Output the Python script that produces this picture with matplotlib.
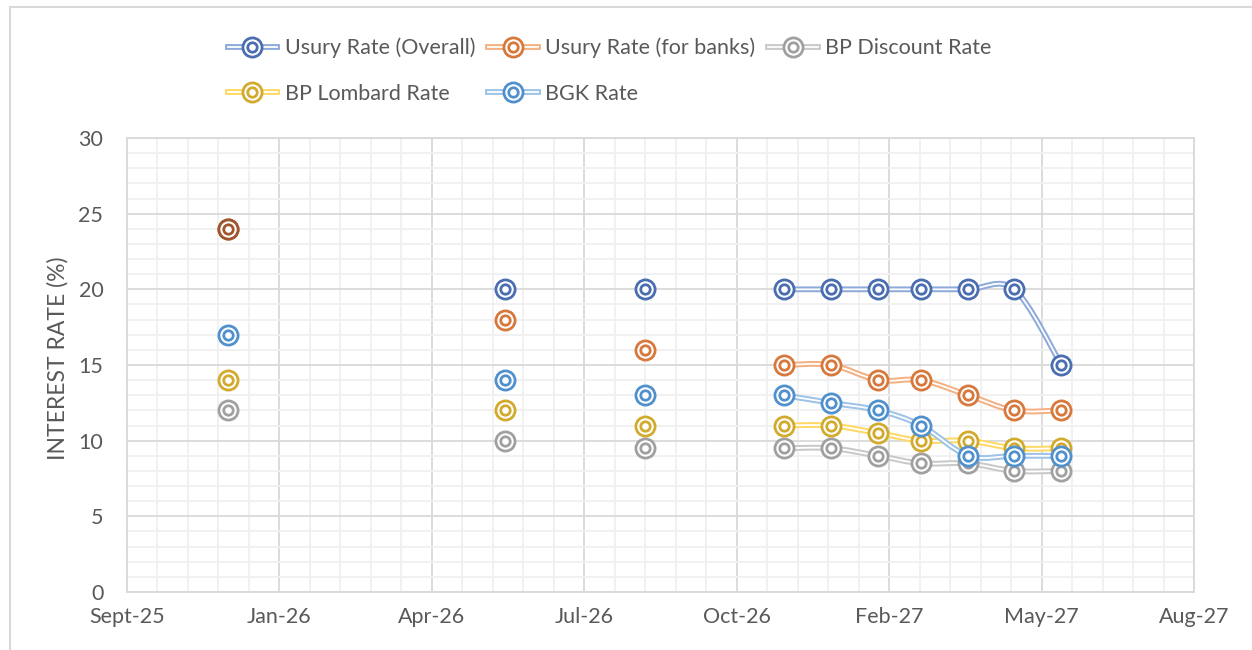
import numpy as np
import pandas as pd
import matplotlib
matplotlib.use('Agg')
import matplotlib.pyplot as plt
import matplotlib.dates as mdates
from matplotlib.path import Path
from matplotlib.patches import PathPatch, Rectangle
from matplotlib.lines import Line2D
from matplotlib.ticker import MultipleLocator, FixedLocator

plt.rcParams['font.family'] = ['Lato', 'DejaVu Sans']

# Dados (leitura aproximada do gráfico)
datas = ['2025-12-01', '2026-06-01', '2026-09-01', '2026-12-01', '2027-01-01',
         '2027-02-01', '2027-03-01', '2027-04-01', '2027-05-01', '2027-06-01']
usura_geral = [24, 20, 20, 20, 20, 20, 20, 20, 20, 15]
usura_bancos = [24, 18, 16, 15, 15, 14, 14, 13, 12, 12]
bp_desconto = [12, 10, 9.5, 9.5, 9.5, 9, 8.5, 8.5, 8, 8]
bp_lombard = [14, 12, 11, 11, 11, 10.5, 10, 10, 9.5, 9.5]
bgk = [17, 14, 13, 13, 12.5, 12, 11, 9, 9, 9]

nomes = ['Usury Rate (Overall)', 'Usury Rate (for banks)', 'BP Discount Rate',
         'BP Lombard Rate', 'BGK Rate']

inicio_eixo = '2025-09-26'
rotulos_x = ['Sept-25', 'Jan-26', 'Apr-26', 'Jul-26', 'Oct-26', 'Feb-27', 'May-27', 'Aug-27']

cores_marcador = ['#4A6EB0', '#D7783C', '#A0A0A0', '#D2AA2D', '#5091CD']
cores_linha = ['#8EAADB', '#F4B183', '#C9C9C9', '#FFD966', '#9DC3E6']
cor_sobreposta = '#A0552E'
cor_texto = '#595959'

x = mdates.date2num(pd.to_datetime(datas))
x0 = mdates.date2num(pd.Timestamp(inicio_eixo))
series = [usura_geral, usura_bancos, bp_desconto, bp_lombard, bgk]

MS_EXT, MS_INT, MEW = 13.8, 6.8, 2.0


def curva_suave(xs, ys):
    # Catmull-Rom -> Bezier (suavização tipo Excel)
    verts = [(xs[0], ys[0])]
    codes = [Path.MOVETO]
    n = len(xs)
    for i in range(n - 1):
        p0 = np.array([xs[max(i - 1, 0)], ys[max(i - 1, 0)]])
        p1 = np.array([xs[i], ys[i]])
        p2 = np.array([xs[i + 1], ys[i + 1]])
        p3 = np.array([xs[min(i + 2, n - 1)], ys[min(i + 2, n - 1)]])
        c1 = p1 + (p2 - p0) / 6
        c2 = p2 - (p3 - p1) / 6
        verts += [tuple(c1), tuple(c2), tuple(p2)]
        codes += [Path.CURVE4] * 3
    return Path(verts, codes)


fig = plt.figure(figsize=(12.52, 6.5), dpi=100)
ax = fig.add_axes([0.1014, 0.0892, 0.8523, 0.6985])

# moldura do gráfico
fig.patches.append(Rectangle((10 / 1252, -0.2), 2, 1.2 - 7 / 650, transform=fig.transFigure,
                             fill=False, edgecolor='#D9D9D9', linewidth=1.5))

# Linhas (somente entre meses consecutivos)
for k, ys in enumerate(series):
    ys = np.array(ys, dtype=float)
    quebra = np.where(np.diff(x) > 40)[0]
    ini = quebra[-1] + 1 if len(quebra) else 0
    caminho = curva_suave(x[ini:], ys[ini:])
    ax.add_patch(PathPatch(caminho, facecolor='none', edgecolor=cores_linha[k],
                           linewidth=4.2, zorder=3 + k * 0.1, capstyle='butt'))
    ax.add_patch(PathPatch(caminho, facecolor='none', edgecolor='white',
                           linewidth=1.3, zorder=3.05 + k * 0.1, capstyle='butt'))

# Marcadores (círculo duplo)
for k, ys in enumerate(series):
    for xi, yi, yg, yb in zip(x, ys, usura_geral, usura_bancos):
        cor = cores_marcador[k]
        if k in (0, 1) and yg == yb:
            cor = cor_sobreposta
        ax.plot(xi, yi, 'o', ms=MS_EXT, mfc='white', mec=cor, mew=MEW, zorder=5 + k)
        ax.plot(xi, yi, 'o', ms=MS_INT, mfc='white', mec=cor, mew=MEW, zorder=5.5 + k)

ax.set_xlim(x0, x0 + 700)
ax.set_ylim(0, 30)
ax.xaxis.set_major_locator(FixedLocator([x0 + 100 * i for i in range(len(rotulos_x))]))
ax.xaxis.set_minor_locator(FixedLocator([x0 + 20 * i for i in range(36)]))
ax.set_xticklabels(rotulos_x)
ax.yaxis.set_major_locator(MultipleLocator(5))
ax.yaxis.set_minor_locator(MultipleLocator(1))

ax.grid(True, which='major', color='#D9D9D9', linewidth=1.3, zorder=0)
ax.grid(True, which='minor', color='#F0F0F0', linewidth=1.3, zorder=0)
ax.set_axisbelow(True)
for s in ax.spines.values():
    s.set_color('#D9D9D9')
    s.set_linewidth(1.3)

ax.tick_params(which='both', length=0, labelsize=15.5, labelcolor=cor_texto)
ax.tick_params(axis='y', pad=17)
ax.tick_params(axis='x', pad=11)

ax.set_ylabel('INTEREST RATE (%)', fontsize=16.5, color=cor_texto)
ax.yaxis.set_label_coords(-0.055, 0.515)

# Legenda
handles = []
for k in range(5):
    h = (Line2D([], [], color=cores_linha[k], lw=4.2),
         Line2D([], [], color='white', lw=1.3),
         Line2D([], [], ls='none', marker='o', ms=MS_EXT, mfc='white', mec=cores_marcador[k], mew=MEW),
         Line2D([], [], ls='none', marker='o', ms=MS_INT, mfc='white', mec=cores_marcador[k], mew=MEW))
    handles.append(h)
ordem = [0, 3, 1, 4, 2]
leg = fig.legend([handles[i] for i in ordem], [nomes[i] for i in ordem], ncol=3,
                 loc='upper center', bbox_to_anchor=(0.487, 0.972), frameon=False,
                 fontsize=15.5, handlelength=2.3, handletextpad=0.35, columnspacing=0.6,
                 labelspacing=1.2, labelcolor=cor_texto)

fig.savefig('out.png', dpi=100)
